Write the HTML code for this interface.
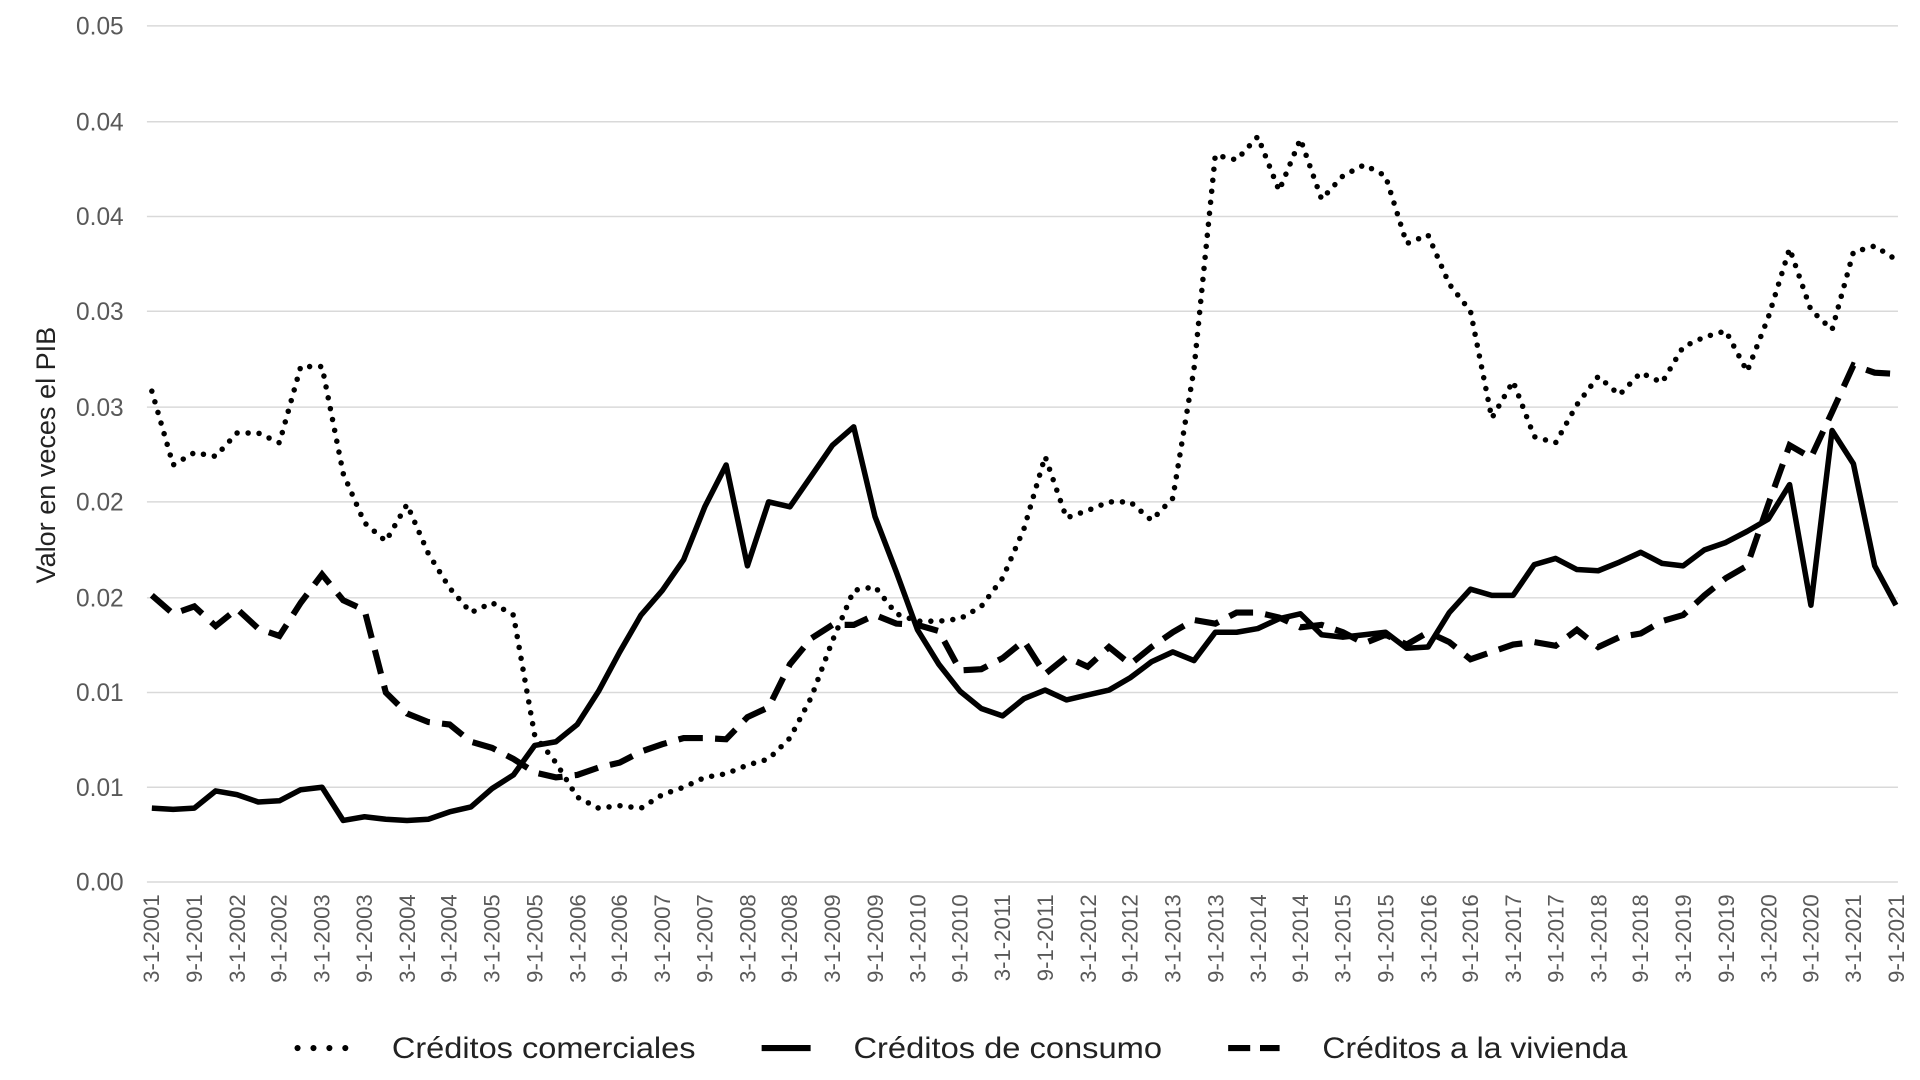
<!DOCTYPE html>
<html><head><meta charset="utf-8"><style>
html,body{margin:0;padding:0;background:#fff;}
svg{display:block;}
text{font-family:"Liberation Sans",sans-serif;}
</style></head><body>
<svg id="c" width="1920" height="1080" viewBox="0 0 1568 878" preserveAspectRatio="none" xmlns="http://www.w3.org/2000/svg">
<g stroke="#d9d9d9" stroke-width="1.2">
<line x1="120" x2="1550" y1="21" y2="21"/><line x1="120" x2="1550" y1="99" y2="99"/>
<line x1="120" x2="1550" y1="176" y2="176"/><line x1="120" x2="1550" y1="253" y2="253"/>
<line x1="120" x2="1550" y1="331" y2="331"/><line x1="120" x2="1550" y1="408" y2="408"/>
<line x1="120" x2="1550" y1="486" y2="486"/><line x1="120" x2="1550" y1="563" y2="563"/>
<line x1="120" x2="1550" y1="640" y2="640"/><line x1="120" x2="1550" y1="717" y2="717"/>
</g>
<g fill="#595959" font-size="20" text-anchor="end">
<text x="101" y="28">0.05</text><text x="101" y="106">0.04</text><text x="101" y="183">0.04</text>
<text x="101" y="260">0.03</text><text x="101" y="338">0.03</text><text x="101" y="415">0.02</text>
<text x="101" y="493">0.02</text><text x="101" y="570">0.01</text><text x="101" y="647">0.01</text>
<text x="101" y="724">0.00</text>
</g>
<text transform="translate(45,370) rotate(-90)" text-anchor="middle" font-size="22" fill="#222">Valor en veces el PIB</text>
<g id="xl" fill="#595959" font-size="18" text-anchor="end">
<text transform="translate(130,727) rotate(-90)">3-1-2001</text>
<text transform="translate(165,727) rotate(-90)">9-1-2001</text>
<text transform="translate(200,727) rotate(-90)">3-1-2002</text>
<text transform="translate(234,727) rotate(-90)">9-1-2002</text>
<text transform="translate(269,727) rotate(-90)">3-1-2003</text>
<text transform="translate(304,727) rotate(-90)">9-1-2003</text>
<text transform="translate(339,727) rotate(-90)">3-1-2004</text>
<text transform="translate(373,727) rotate(-90)">9-1-2004</text>
<text transform="translate(408,727) rotate(-90)">3-1-2005</text>
<text transform="translate(443,727) rotate(-90)">9-1-2005</text>
<text transform="translate(478,727) rotate(-90)">3-1-2006</text>
<text transform="translate(512,727) rotate(-90)">9-1-2006</text>
<text transform="translate(547,727) rotate(-90)">3-1-2007</text>
<text transform="translate(582,727) rotate(-90)">9-1-2007</text>
<text transform="translate(617,727) rotate(-90)">3-1-2008</text>
<text transform="translate(651,727) rotate(-90)">9-1-2008</text>
<text transform="translate(686,727) rotate(-90)">3-1-2009</text>
<text transform="translate(721,727) rotate(-90)">9-1-2009</text>
<text transform="translate(756,727) rotate(-90)">3-1-2010</text>
<text transform="translate(790,727) rotate(-90)">9-1-2010</text>
<text transform="translate(825,727) rotate(-90)">3-1-2011</text>
<text transform="translate(860,727) rotate(-90)">9-1-2011</text>
<text transform="translate(895,727) rotate(-90)">3-1-2012</text>
<text transform="translate(929,727) rotate(-90)">9-1-2012</text>
<text transform="translate(964,727) rotate(-90)">3-1-2013</text>
<text transform="translate(999,727) rotate(-90)">9-1-2013</text>
<text transform="translate(1034,727) rotate(-90)">3-1-2014</text>
<text transform="translate(1068,727) rotate(-90)">9-1-2014</text>
<text transform="translate(1103,727) rotate(-90)">3-1-2015</text>
<text transform="translate(1138,727) rotate(-90)">9-1-2015</text>
<text transform="translate(1173,727) rotate(-90)">3-1-2016</text>
<text transform="translate(1207,727) rotate(-90)">9-1-2016</text>
<text transform="translate(1242,727) rotate(-90)">3-1-2017</text>
<text transform="translate(1277,727) rotate(-90)">9-1-2017</text>
<text transform="translate(1312,727) rotate(-90)">3-1-2018</text>
<text transform="translate(1346,727) rotate(-90)">9-1-2018</text>
<text transform="translate(1381,727) rotate(-90)">3-1-2019</text>
<text transform="translate(1416,727) rotate(-90)">9-1-2019</text>
<text transform="translate(1451,727) rotate(-90)">3-1-2020</text>
<text transform="translate(1485,727) rotate(-90)">9-1-2020</text>
<text transform="translate(1520,727) rotate(-90)">3-1-2021</text>
<text transform="translate(1555,727) rotate(-90)">9-1-2021</text>
</g>
<path id="pc" fill="none" stroke="#000" stroke-width="4.5" stroke-linecap="round" stroke-dasharray="0 9"/>
<path id="ph" fill="none" stroke="#000" stroke-width="5" stroke-dasharray="20 10"/>
<path id="ps" fill="none" stroke="#000" stroke-width="4.5" stroke-linejoin="round"/>
<line x1="243" x2="283" y1="852" y2="852" stroke="#000" stroke-width="5" stroke-linecap="round" stroke-dasharray="0 13"/>
<text x="320" y="860" font-size="24" fill="#222" textLength="248" lengthAdjust="spacingAndGlyphs">Créditos comerciales</text>
<line x1="622" x2="662" y1="852" y2="852" stroke="#000" stroke-width="5"/>
<text x="697" y="860" font-size="24" fill="#222" textLength="252" lengthAdjust="spacingAndGlyphs">Créditos de consumo</text>
<line x1="1003" x2="1045" y1="852" y2="852" stroke="#000" stroke-width="5" stroke-dasharray="18 8"/>
<text x="1080" y="860" font-size="24" fill="#222" textLength="249" lengthAdjust="spacingAndGlyphs">Créditos a la vivienda</text>
</svg>
<script>
var S=[657,658,657,643,646,652,651,642,640,667,664,666,667,666,660,656,641,630,606,603,589,562,530,500,480,455,412,378,460,408,412,387,362,347,420,465,512,540,562,576,582,568,561,569,565,561,551,538,530,537,514,514,511,503,499,516,518,516,514,527,526,498,479,484,484,459,454,463,464,457,449,458,460,447,441,432,422,394,492,350,377,460,492];
var H=[484,499,493,509,495,511,517,490,467,488,496,563,580,587,589,603,608,617,628,632,630,624,620,611,605,600,600,601,583,575,540,519,508,508,500,507,508,513,545,544,535,521,548,534,542,526,540,526,514,504,507,498,498,502,510,508,514,523,516,524,514,522,536,530,524,522,525,512,526,518,515,505,500,484,470,460,410,362,372,335,297,303,304];
var C=[318,378,368,371,352,352,360,298,298,385,425,440,410,450,478,498,490,500,598,620,648,657,655,657,646,640,632,629,622,617,600,567,521,480,477,499,505,505,503,493,470,430,371,421,415,408,408,423,405,300,126,130,111,155,113,162,143,134,143,198,191,231,253,340,310,355,360,329,306,321,303,311,282,274,269,302,258,202,252,268,205,200,211];
function d(a){return a.map(function(y,i){return (i?'L':'M')+(124+17.37*i).toFixed(1)+' '+y;}).join(' ');}
document.getElementById('ps').setAttribute('d',d(S));
document.getElementById('ph').setAttribute('d',d(H));
document.getElementById('pc').setAttribute('d',d(C));
</script>
</body></html>
